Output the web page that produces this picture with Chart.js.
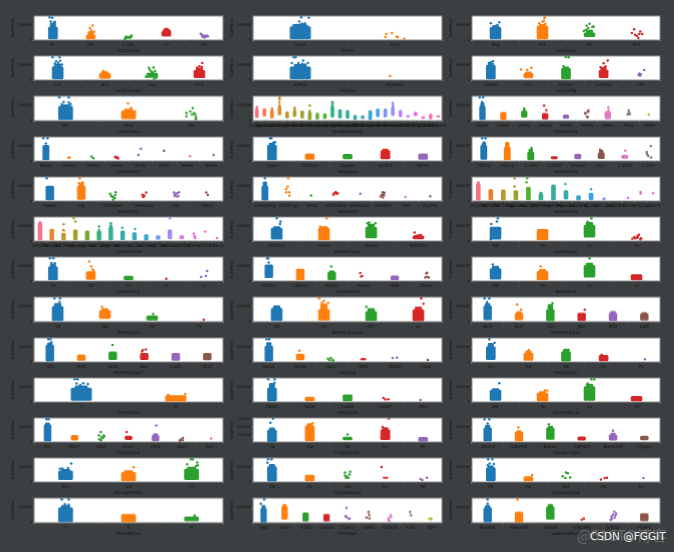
<!DOCTYPE html>
<html>
<head>
<meta charset="utf-8">
<title>SalePrice strip plots</title>
<script src="https://cdn.jsdelivr.net/npm/chart.js@4/dist/chart.umd.min.js"></script>
<style>
  html, body { margin: 0; padding: 0; background: #3c3f41; overflow: hidden; }
  #page { position: relative; width: 674px; height: 552px; }
  #page canvas { position: absolute; filter: blur(0.35px); }
  .wm1 { position: absolute; left: 577px; top: 524px; font: 15px "Noto Sans CJK SC", sans-serif; color: rgba(255,255,255,0.22); }
  .wm2 { position: absolute; left: 590px; top: 530px; font: 10.5px "DejaVu Sans", sans-serif; color: #f2f2f2; }
</style>
</head>
<body>
<div id="page">
  <div class="wm1">@51CTO博客</div>
  <div class="wm2">CSDN @FGGIT</div>
</div>
<script>
// one panel = categories, dense bands [cat, low, high, thin top], loose points [x, price], prices in thousands

const MSZoning = ['RL', 'RM', 'C (all)', 'FV', 'RH'];
const MSZoning_bands = [[0, 35, 430, 560], [1, 40, 170, 280], [3, 130, 290, 370]];
const MSZoning_points = [[-0.09, 755], [-0.02, 745], [-0.06, 615], [0.04, 605], [-0.02, 540], [0.05, 590], [1.05, 484], [0.98, 396], [1.01, 320], [1.05, 250], [1.09, 275], [1.92, 60], [1.95, 85], [1.98, 100], [2.02, 75], [2.05, 120], [2.06, 95], [2.08, 150], [1.93, 105], [1.9, 40], [1.94, 65], [3.0, 375], [2.94, 300], [3.05, 330], [3.09, 290], [2.92, 250], [3.93, 190], [3.96, 150], [3.98, 100], [4.02, 85], [4.05, 130], [4.08, 150], [4.1, 120], [3.91, 210], [3.95, 120], [4.0, 140], [4.03, 110]];

const Street = ['Pave', 'Grvl'];
const Street_bands = [[0, 35, 450, 520]];
const Street_points = [[0.01, 755], [0.09, 745], [-0.01, 615], [0.05, 560], [0.02, 540], [0.07, 470], [-0.04, 500], [-0.07, 490], [0.0, 520], [0.91, 198], [0.9, 100], [0.97, 230], [1.02, 120], [1.03, 95], [1.1, 40]];

const LotShape = ['Reg', 'IR1', 'IR2', 'IR3'];
const LotShape_bands = [[0, 35, 420, 480], [1, 40, 460, 520], [2, 110, 240, 330]];
const LotShape_points = [[-0.1, 560], [0.08, 595], [0.04, 500], [0.0, 470], [1.05, 755], [1.04, 745], [0.93, 560], [1.03, 640], [1.0, 610], [1.06, 540], [1.88, 300], [2.0, 540], [1.94, 475], [2.06, 430], [2.09, 450], [1.92, 340], [1.97, 390], [2.03, 300], [2.95, 360], [3.08, 285], [2.9, 230], [3.06, 200], [3.12, 200], [3.01, 145], [3.04, 65], [2.97, 175]];

const LandContour = ['Lvl', 'Bnk', 'Low', 'HLS'];
const LandContour_bands = [[0, 35, 450, 530], [1, 50, 220, 280], [2, 90, 230], [3, 80, 320, 400]];
const LandContour_points = [[-0.11, 755], [0.04, 755], [-0.03, 625], [0.05, 640], [0.01, 570], [-0.06, 550], [0.09, 520], [0.97, 310], [1.93, 407], [2.03, 420], [1.95, 340], [2.06, 300], [1.98, 280], [2.01, 250], [2.09, 75], [1.87, 110], [2.06, 130], [2.04, 35], [2.97, 300], [3.06, 570], [3.0, 460], [2.95, 405], [3.05, 430]];

const Utilities = ['AllPub', 'NoSeWa'];
const Utilities_bands = [[0, 35, 440, 520]];
const Utilities_points = [[-0.07, 755], [-0.05, 755], [0.03, 650], [-0.02, 570], [0.08, 570], [0.02, 545], [-0.09, 570], [0.05, 520], [0.95, 137]];

const LotConfig = ['Inside', 'FR2', 'Corner', 'CulDSac', 'FR3'];
const LotConfig_bands = [[0, 35, 500, 560], [1, 70, 230, 270], [2, 40, 390, 440], [3, 80, 330, 420]];
const LotConfig_points = [[-0.05, 570], [0.06, 625], [0.0, 595], [0.8, 350], [1.08, 410], [0.97, 330], [1.99, 770], [2.07, 755], [1.93, 460], [3.11, 650], [3.0, 555], [2.92, 425], [3.05, 460], [4.08, 330], [3.95, 220], [3.97, 140], [3.99, 190], [3.93, 165]];

const LandSlope = ['Gtl', 'Mod', 'Sev'];
const LandSlope_bands = [[0, 35, 470, 520], [1, 60, 320, 380]];
const LandSlope_points = [[-0.1, 755], [0.05, 755], [-0.03, 610], [0.05, 590], [0.08, 540], [-0.06, 530], [0.99, 560], [1.04, 420], [1.1, 300], [2.02, 407], [1.92, 253], [1.92, 143], [1.98, 300], [2.04, 250], [2.06, 200], [2.01, 200], [2.07, 120], [2.07, 55]];

const Neighborhood = ['CollgCr', 'Veenker', 'Crawfor', 'NoRidge', 'Mitchel', 'Somerst', 'NWAmes', 'OldTown', 'BrkSide', 'Sawyer', 'NridgHt', 'NAmes', 'SawyerW', 'IDOTRR', 'MeadowV', 'Edwards', 'Timber', 'Gilbert', 'StoneBr', 'ClearCr', 'NPkVill', 'Blmngtn', 'BrDale', 'SWISU', 'Blueste'];
const Neighborhood_bands = [[0, 100, 380, 470], [1, 150, 390], [2, 90, 330, 420], [3, 190, 470, 520], [4, 90, 290], [5, 140, 330, 450], [6, 90, 320], [7, 40, 280, 350], [8, 50, 250], [9, 70, 230], [10, 110, 480, 620], [11, 90, 360], [12, 80, 340], [13, 35, 180], [14, 70, 160], [15, 35, 330], [16, 130, 390], [17, 120, 390], [18, 170, 450, 560], [19, 130, 340], [20, 120, 170], [21, 160, 280], [22, 80, 130], [23, 60, 210], [24, 120, 160]];
const Neighborhood_points = [[3, 755], [2.97, 745], [3, 690], [2.96, 590], [7.0, 495], [10.0, 610], [17.98, 580]];

const Condition1 = ['Norm', 'Feedr', 'PosN', 'Artery', 'RRAe', 'RRNn', 'RRAn', 'PosA', 'RRNe'];
const Condition1_bands = [[0, 35, 480, 590], [1, 40, 270], [2, 110, 320], [3, 50, 240], [4, 80, 190], [6, 60, 300]];
const Condition1_points = [[-0.13, 755], [0.03, 755], [-0.02, 610], [2.0, 400], [2.0, 350], [2.95, 490], [3.06, 340], [4.92, 230], [5.07, 330], [5.05, 290], [4.93, 250], [5.0, 130], [5.04, 120], [6.03, 430], [6.03, 340], [7.0, 330], [7.03, 270], [6.97, 220], [7.06, 215], [6.95, 205], [7.96, 200]];

const Condition2 = ['Norm', 'Artery', 'RRNn', 'Feedr', 'PosN', 'PosA', 'RRAn', 'RRAe'];
const Condition2_bands = [[0, 35, 520]];
const Condition2_points = [[-0.11, 755], [0.07, 755], [0.0, 580], [0.95, 110], [1.0, 120], [1.93, 150], [2.01, 88], [2.93, 140], [3.0, 130], [3.03, 100], [2.97, 110], [3.06, 85], [4.02, 407], [3.92, 198], [5.0, 340], [6.1, 155], [7.1, 198]];

const BldgType = ['1Fam', '2fmCon', 'Duplex', 'TwnhsE', 'Twnhs'];
const BldgType_bands = [[0, 35, 530, 600], [1, 50, 240], [2, 70, 220], [3, 70, 350, 400], [4, 50, 240]];
const BldgType_points = [[-0.05, 755], [-0.02, 755], [0.04, 615], [0.08, 625]];

const HouseStyle = ['2Story', '1Story', '1.5Fin', '1.5Unf', 'SFoyer', 'SLvl', '2.5Unf', '2.5Fin'];
const HouseStyle_bands = [[0, 50, 520, 590], [1, 40, 460, 620], [2, 40, 300, 400], [3, 70, 150], [4, 70, 230], [5, 80, 280, 360], [6, 90, 200]];
const HouseStyle_points = [[-0.07, 755], [0.07, 755], [0.0, 620], [0.05, 600], [2.03, 430], [4.95, 375], [6.02, 340], [7.11, 500], [6.94, 300], [6.97, 200], [7.0, 170], [7.12, 115], [6.94, 250]];

const RoofStyle = ['Gable', 'Hip', 'Gambrel', 'Mansard', 'Flat', 'Shed'];
const RoofStyle_bands = [[0, 35, 500], [1, 50, 500, 600]];
const RoofStyle_points = [[-0.1, 755], [0.95, 755], [1.04, 625], [0.93, 595], [1.92, 240], [2.03, 120], [2.09, 290], [1.98, 150], [2.01, 45], [2.08, 200], [2.06, 100], [1.95, 170], [2.94, 210], [3.06, 285], [2.98, 150], [3.0, 180], [2.96, 130], [3.94, 285], [4.1, 290], [4.0, 240], [3.97, 200], [4.05, 260], [4.08, 170], [3.96, 170], [4.04, 150], [4.97, 285], [5.02, 200]];

const RoofMatl = ['CompShg', 'WdShngl', 'Metal', 'WdShake', 'Membran', 'Tar&Grv', 'Roll', 'ClyTile'];
const RoofMatl_bands = [[0, 25, 500, 640]];
const RoofMatl_points = [[0.0, 755], [0.99, 755], [0.96, 480], [0.9, 400], [1.03, 290], [0.9, 290], [1.04, 175], [1.96, 180], [2.9, 210], [3.0, 300], [3.08, 260], [2.94, 260], [3.04, 240], [4.04, 240], [4.99, 290], [5.06, 275], [4.95, 200], [5.04, 190], [4.9, 150], [5.0, 120], [5.02, 230], [5.95, 137], [7.0, 160]];

const Exterior1st = ['VinylSd', 'MetalSd', 'Wd Sdng', 'HdBoard', 'BrkFace', 'WdShing', 'CemntBd', 'Plywood', 'AsbShng', 'Stucco', 'BrkComm', 'AsphShn', 'Stone', 'ImStucc', 'CBlock'];
const Exterior1st_bands = [[0, 25, 560, 650], [1, 40, 390], [2, 25, 370], [3, 40, 350], [4, 40, 460], [5, 40, 240, 300], [6, 40, 540], [7, 60, 350], [8, 25, 180], [9, 40, 260]];
const Exterior1st_points = [[2.9, 755], [3.9, 755], [2.9, 480], [3.85, 625], [5.95, 395], [6.95, 570], [9.0, 395], [10.0, 60], [10.07, 85], [11.95, 100], [12.95, 300], [12.95, 240], [13.95, 262], [15.0, 100]];

const Exterior2nd = ['VinylSd', 'MetalSd', 'Wd Shng', 'HdBoard', 'Plywood', 'Wd Sdng', 'CmentBd', 'BrkFace', 'Stucco', 'AsbShng', 'Brk Cmn', 'ImStucc', 'AsphShn', 'Stone', 'Other', 'CBlock'];
const Exterior2nd_bands = [[0, 30, 600, 650], [1, 30, 400], [2, 30, 260], [3, 40, 370], [4, 40, 340], [5, 30, 340], [6, 40, 460, 550], [7, 40, 340], [8, 40, 280], [9, 25, 210], [10, 50, 180], [11, 70, 370], [12, 70, 180]];
const Exterior2nd_points = [[2.0, 560], [1.95, 370], [2.03, 350], [2.85, 755], [3.0, 650], [5.0, 480], [5.0, 375], [6.0, 590], [6.97, 440], [8.05, 400], [11.0, 755], [13.03, 240], [13.14, 100], [13.1, 160], [14.0, 320], [15.0, 100]];

const MasVnrType = ['BrkFace', 'None', 'Stone', 'BrkCmn'];
const MasVnrType_bands = [[0, 60, 430, 480], [1, 35, 440, 480], [2, 100, 460, 560], [3, 70, 170]];
const MasVnrType_points = [[0.0, 755], [0.08, 650], [0.07, 570], [1.06, 755], [0.92, 485], [1.96, 620], [2.09, 590], [1.92, 590], [2.92, 285], [2.95, 170], [3.0, 190], [3.05, 200], [3.08, 100]];

const ExterQual = ['Gd', 'TA', 'Ex', 'Fa'];
const ExterQual_bands = [[0, 60, 460], [1, 40, 390], [2, 130, 530, 620]];
const ExterQual_points = [[-0.09, 570], [0.05, 755], [0.03, 650], [-0.1, 60], [2.04, 755], [1.96, 640], [2.91, 75], [2.95, 130], [3.0, 100], [3.05, 210], [3.02, 170], [3.08, 50], [2.97, 90], [3.1, 90], [3.03, 120]];

const ExterCond = ['TA', 'Gd', 'Fa', 'Po', 'Ex'];
const ExterCond_bands = [[0, 35, 480, 560], [1, 50, 310], [2, 40, 160]];
const ExterCond_points = [[-0.08, 755], [0.01, 755], [-0.04, 600], [0.05, 590], [0.96, 650], [1.01, 495], [1.05, 380], [1.08, 340], [3.0, 76], [3.92, 130], [4.05, 165], [4.08, 330]];

const Foundation = ['PConc', 'CBlock', 'BrkTil', 'Wood', 'Slab', 'Stone'];
const Foundation_bands = [[0, 110, 540], [1, 35, 400], [2, 35, 300, 340], [4, 40, 170]];
const Foundation_points = [[-0.05, 755], [-0.02, 750], [0.0, 620], [1.98, 480], [2.9, 265], [2.96, 165], [2.93, 150], [5.03, 275], [5.03, 140], [5.08, 120], [4.97, 115], [5.0, 250]];

const BsmtQual = ['Gd', 'TA', 'Ex', 'Fa'];
const BsmtQual_bands = [[0, 60, 410, 500], [1, 40, 320, 390], [2, 130, 520, 600], [3, 40, 210]];
const BsmtQual_points = [[-0.06, 550], [0.96, 480], [2.0, 755]];

const BsmtCond = ['TA', 'Gd', 'Fa', 'Po'];
const BsmtCond_bands = [[0, 35, 500, 600], [1, 100, 360, 430], [2, 50, 190]];
const BsmtCond_points = [[0.05, 755], [-0.07, 755], [0.04, 640], [0.94, 480], [2.02, 250], [3.09, 65]];

const BsmtExposure = ['No', 'Gd', 'Mn', 'Av'];
const BsmtExposure_bands = [[0, 35, 440, 520], [1, 50, 400, 580], [2, 40, 340, 430], [3, 30, 390, 480]];
const BsmtExposure_points = [[0.9, 755], [0.96, 620], [1.09, 620], [1.0, 680], [1.9, 480], [3.06, 755], [3.11, 580]];

const BsmtFinType1 = ['GLQ', 'ALQ', 'Unf', 'Rec', 'BLQ', 'LwQ'];
const BsmtFinType1_bands = [[0, 60, 520, 600], [1, 60, 280, 330], [2, 30, 400, 560], [3, 40, 280], [4, 40, 280, 340], [5, 50, 260, 300]];
const BsmtFinType1_points = [[-0.1, 755], [0.05, 755], [-0.02, 640], [0.94, 560], [1.07, 390], [2.07, 600], [3.1, 395]];

const BsmtFinType2 = ['Unf', 'BLQ', 'ALQ', 'Rec', 'LwQ', 'GLQ'];
const BsmtFinType2_bands = [[0, 25, 560, 640], [1, 50, 240], [2, 80, 340], [3, 80, 290], [4, 50, 290], [5, 70, 290]];
const BsmtFinType2_points = [[-0.05, 755], [0.02, 755], [0.05, 660], [1.99, 570], [2.95, 400], [3.05, 420], [2.93, 350]];

const Heating = ['GasA', 'GasW', 'Grav', 'Wall', 'OthW', 'Floor'];
const Heating_bands = [[0, 25, 530, 650], [1, 70, 260]];
const Heating_points = [[-0.07, 755], [0.01, 755], [0.97, 375], [1.88, 110], [1.93, 60], [1.97, 130], [2.03, 70], [2.05, 40], [2.95, 95], [3.0, 100], [3.05, 90], [3.93, 130], [4.07, 140], [5.05, 70]];

const HeatingQC = ['Ex', 'Gd', 'TA', 'Fa', 'Po'];
const HeatingQC_bands = [[0, 80, 510, 620], [1, 50, 300, 370], [2, 25, 350, 430], [3, 40, 220]];
const HeatingQC_points = [[-0.04, 755], [0.1, 640], [1.01, 400], [2.07, 400], [2.95, 240], [4.1, 90]];

const CentralAir = ['Y', 'N'];
const CentralAir_bands = [[0, 55, 460, 540], [1, 25, 210]];
const CentralAir_points = [[-0.07, 755], [-0.04, 755], [-0.05, 620], [0.07, 600], [0.02, 625], [-0.01, 570], [1.1, 265], [0.92, 240]];

const Electrical = ['SBrkr', 'FuseF', 'FuseA', 'FuseP', 'Mix'];
const Electrical_bands = [[0, 25, 460, 620], [1, 40, 165], [2, 40, 240]];
const Electrical_points = [[-0.1, 755], [0.07, 755], [0.07, 640], [2.95, 132], [3.0, 80], [3.08, 88], [3.93, 67]];

const KitchenQual = ['Gd', 'TA', 'Ex', 'Fa'];
const KitchenQual_bands = [[0, 50, 400, 450], [1, 25, 300, 350], [2, 50, 510, 600], [3, 40, 190]];
const KitchenQual_points = [[0.08, 625], [1.05, 385], [1.1, 385], [2.04, 755], [2.1, 755], [1.96, 620]];

const Functional = ['Typ', 'Min1', 'Maj1', 'Min2', 'Mod', 'Maj2', 'Sev'];
const Functional_bands = [[0, 25, 580, 640], [1, 60, 220], [3, 80, 200], [4, 40, 220, 280]];
const Functional_points = [[-0.04, 755], [0.04, 755], [1.97, 330], [1.9, 220], [2.08, 220], [1.92, 90], [2.0, 160], [2.05, 130], [1.98, 60], [2.1, 190], [2.93, 330], [4.03, 550], [4.9, 40], [4.93, 85], [5.01, 130], [5.0, 60], [6.06, 120]];

const FireplaceQu = ['TA', 'Gd', 'Fa', 'Ex', 'Po'];
const FireplaceQu_bands = [[0, 50, 400, 470], [1, 70, 530, 600], [2, 100, 190], [3, 110, 420, 480], [4, 60, 180]];
const FireplaceQu_points = [[0.03, 745], [-0.04, 625], [1.07, 610], [2.0, 270], [2.9, 180], [3.09, 755], [2.93, 500]];

const GarageType = ['Attchd', 'Detchd', 'BuiltIn', 'CarPort', 'Basment', '2Types'];
const GarageType_bands = [[0, 30, 470, 560], [1, 25, 330, 380], [2, 90, 470, 530], [3, 60, 170], [4, 60, 240, 300], [5, 70, 200]];
const GarageType_points = [[-0.1, 755], [0.05, 755], [0.0, 620], [0.98, 484], [1.95, 595], [4.0, 375]];

const GarageFinish = ['RFn', 'Unf', 'Fin'];
const GarageFinish_bands = [[0, 80, 370, 420], [1, 40, 320, 380], [2, 80, 430, 500]];
const GarageFinish_points = [[0.09, 615], [0.04, 470], [-0.09, 440], [-0.05, 450], [1.08, 495], [1.99, 755], [2.02, 755], [2.09, 650], [1.93, 590], [2.1, 560], [2.07, 530]];

const GarageQual = ['TA', 'Fa', 'Gd', 'Ex', 'Po'];
const GarageQual_bands = [[0, 25, 510, 590], [1, 40, 230]];
const GarageQual_points = [[-0.1, 755], [-0.01, 755], [-0.12, 640], [1.93, 320], [2.05, 250], [1.98, 180], [2.02, 140], [1.93, 220], [1.96, 130], [2.07, 340], [2.9, 500], [2.97, 140], [3.04, 140], [3.93, 100], [3.98, 70], [4.1, 140]];

const GarageCond = ['TA', 'Fa', 'Gd', 'Po', 'Ex'];
const GarageCond_bands = [[0, 40, 480, 540], [1, 40, 180]];
const GarageCond_points = [[-0.07, 755], [0.04, 755], [-0.03, 620], [0.08, 600], [-0.08, 560], [1.1, 230], [2.0, 320], [2.05, 290], [1.91, 190], [1.98, 130], [2.11, 150], [2.93, 80], [3.03, 130], [3.09, 140], [4.06, 130]];

const PavedDrive = ['Y', 'N', 'P'];
const PavedDrive_bands = [[0, 30, 490, 560], [1, 30, 270], [2, 60, 190]];
const PavedDrive_points = [[-0.06, 755], [0.05, 755], [-0.01, 600], [0.05, 580], [2.05, 230]];

const SaleType = ['WD', 'New', 'COD', 'ConLD', 'ConLI', 'CWD', 'ConLw', 'Con', 'Oth'];
const SaleType_bands = [[0, 20, 470, 560], [1, 110, 530, 600], [2, 50, 320], [3, 50, 270]];
const SaleType_points = [[0.03, 755], [-0.13, 620], [3.95, 480], [3.9, 220], [3.95, 180], [4.05, 130], [4.1, 135], [5.0, 350], [5.03, 250], [4.9, 165], [5.04, 145], [5.95, 100], [6.05, 240], [6.08, 180], [5.96, 150], [6.0, 50], [6.98, 350], [7.03, 240], [7.9, 130], [7.95, 110], [8.0, 130]];

const SaleCondition = ['Normal', 'Abnorml', 'Partial', 'AdjLand', 'Alloca', 'Family'];
const SaleCondition_bands = [[0, 30, 490, 560], [1, 20, 350], [2, 110, 520, 600], [5, 60, 300]];
const SaleCondition_points = [[0.0, 755], [0.0, 620], [0.95, 755], [3.0, 100], [3.07, 130], [3.96, 130], [4.04, 360], [4.1, 300], [4.0, 260], [3.95, 200], [4.05, 170], [3.93, 90], [4.08, 240]];

// seaborn default colours, husl is for the panels with many categories
const tab10 = ['#1f77b4', '#ff7f0e', '#2ca02c', '#d62728', '#9467bd', '#8c564b', '#e377c2', '#7f7f7f', '#bcbd22', '#17becf'];
const husl25 = ['#f77189', '#f7754f', '#e98731', '#d58c32', '#c39532', '#b39a32', '#a39e31', '#8ea531', '#6fad31', '#4fb031', '#33b07a', '#34ae91', '#35aca1', '#36abad', '#37a9bd', '#38a7d0', '#4aa0e8', '#7b96f4', '#9b8ef4', '#bb83f4', '#cf79f4', '#f561dd', '#f668c2', '#f66db0', '#f770a0'];
const husl15 = ['#f77189', '#e68332', '#bb9832', '#97a431', '#50b131', '#34af8d', '#35ac9e', '#36ada4', '#38a8c5', '#3ba3ec', '#9b8ef4', '#cc7af4', '#f45cf2', '#f565cc', '#f66bad'];
const husl16 = ['#f77189', '#e8822f', '#c39532', '#a39e31', '#77a831', '#33b07a', '#34ae91', '#35aca4', '#37a9bd', '#38a7d0', '#6e9bf4', '#9b8ef4', '#cc7af4', '#f45cf2', '#f565cc', '#f66bad'];

const yTicks = [0, 500000];
const yMax = 800000;
const fireplaceTicks = [250000, 500000, 750000];

// 13 rows by 3 columns, reading left to right
const panels = [
  ['MSZoning', MSZoning, MSZoning_bands, MSZoning_points],
  ['Street', Street, Street_bands, Street_points],
  ['LotShape', LotShape, LotShape_bands, LotShape_points],
  ['LandContour', LandContour, LandContour_bands, LandContour_points],
  ['Utilities', Utilities, Utilities_bands, Utilities_points],
  ['LotConfig', LotConfig, LotConfig_bands, LotConfig_points],
  ['LandSlope', LandSlope, LandSlope_bands, LandSlope_points],
  ['Neighborhood', Neighborhood, Neighborhood_bands, Neighborhood_points],
  ['Condition1', Condition1, Condition1_bands, Condition1_points],
  ['Condition2', Condition2, Condition2_bands, Condition2_points],
  ['BldgType', BldgType, BldgType_bands, BldgType_points],
  ['HouseStyle', HouseStyle, HouseStyle_bands, HouseStyle_points],
  ['RoofStyle', RoofStyle, RoofStyle_bands, RoofStyle_points],
  ['RoofMatl', RoofMatl, RoofMatl_bands, RoofMatl_points],
  ['Exterior1st', Exterior1st, Exterior1st_bands, Exterior1st_points],
  ['Exterior2nd', Exterior2nd, Exterior2nd_bands, Exterior2nd_points],
  ['MasVnrType', MasVnrType, MasVnrType_bands, MasVnrType_points],
  ['ExterQual', ExterQual, ExterQual_bands, ExterQual_points],
  ['ExterCond', ExterCond, ExterCond_bands, ExterCond_points],
  ['Foundation', Foundation, Foundation_bands, Foundation_points],
  ['BsmtQual', BsmtQual, BsmtQual_bands, BsmtQual_points],
  ['BsmtCond', BsmtCond, BsmtCond_bands, BsmtCond_points],
  ['BsmtExposure', BsmtExposure, BsmtExposure_bands, BsmtExposure_points],
  ['BsmtFinType1', BsmtFinType1, BsmtFinType1_bands, BsmtFinType1_points],
  ['BsmtFinType2', BsmtFinType2, BsmtFinType2_bands, BsmtFinType2_points],
  ['Heating', Heating, Heating_bands, Heating_points],
  ['HeatingQC', HeatingQC, HeatingQC_bands, HeatingQC_points],
  ['CentralAir', CentralAir, CentralAir_bands, CentralAir_points],
  ['Electrical', Electrical, Electrical_bands, Electrical_points],
  ['KitchenQual', KitchenQual, KitchenQual_bands, KitchenQual_points],
  ['Functional', Functional, Functional_bands, Functional_points],
  ['FireplaceQu', FireplaceQu, FireplaceQu_bands, FireplaceQu_points],
  ['GarageType', GarageType, GarageType_bands, GarageType_points],
  ['GarageFinish', GarageFinish, GarageFinish_bands, GarageFinish_points],
  ['GarageQual', GarageQual, GarageQual_bands, GarageQual_points],
  ['GarageCond', GarageCond, GarageCond_bands, GarageCond_points],
  ['PavedDrive', PavedDrive, PavedDrive_bands, PavedDrive_points],
  ['SaleType', SaleType, SaleType_bands, SaleType_points],
  ['SaleCondition', SaleCondition, SaleCondition_bands, SaleCondition_points],
];

const colLefts = [34, 253.3, 471.7];
const rowTop = 16, rowStep = 40.2;
const plotW = 188.5, plotH = 24.3;
const padLeft = 23, padTop = 5, padRight = 14, axisH = 13;
const fontSize = 4.3;

// white plot area and grey spines
const framePlugin = {
  id: 'frame',
  beforeDatasetsDraw(chart) {
    const a = chart.chartArea, c = chart.ctx;
    c.save();
    c.fillStyle = '#ffffff';
    c.fillRect(a.left, a.top, a.width, a.height);
    c.strokeStyle = '#8c8c8c';
    c.lineWidth = 1;
    c.strokeRect(a.left, a.top, a.width, a.height);
    c.restore();
  }
};

function colorsFor(cats) {
  if (cats.length == 25) return husl25;
  if (cats.length == 16) return husl16;
  if (cats.length == 15) return husl15;
  return tab10;
}

Chart.defaults.font.family = '"DejaVu Sans", sans-serif';
Chart.defaults.font.size = fontSize;
Chart.defaults.color = '#111111';

const page = document.getElementById('page');

panels.forEach(function (p, idx) {
  const name = p[0], cats = p[1], bands = p[2], points = p[3];
  const palette = colorsFor(cats);
  const row = Math.floor(idx / 3), col = idx % 3;
  const isFireplace = name == 'FireplaceQu';
  const ticksY = isFireplace ? fireplaceTicks : yTicks;
  const thick = plotW / cats.length * 0.2 + 1.5;
  const thin = bands.filter(b => b.length > 3);

  const cv = document.createElement('canvas');
  const w = padLeft + plotW + padRight, h = padTop + plotH + axisH;
  cv.width = w;
  cv.height = h;
  cv.style.left = (colLefts[col] - padLeft) + 'px';
  cv.style.top = (rowTop + row * rowStep - padTop) + 'px';
  cv.style.width = w + 'px';
  cv.style.height = h + 'px';
  page.appendChild(cv);

  new Chart(cv, {
    type: 'scatter',
    data: {
      datasets: [
        {
          type: 'bar',
          data: bands.map(b => ({ x: b[0], y: [b[1] * 1000, b[2] * 1000] })),
          backgroundColor: bands.map(b => palette[b[0] % palette.length]),
          barThickness: thick,
          borderRadius: 1.5,
          borderSkipped: false,
          grouped: false
        },
        {
          type: 'bar',
          data: thin.map(b => ({ x: b[0], y: [b[2] * 1000 - 10000, b[3] * 1000] })),
          backgroundColor: thin.map(b => palette[b[0] % palette.length]),
          barThickness: thick * 0.6,
          borderRadius: 1.2,
          borderSkipped: false,
          grouped: false
        },
        {
          data: points.map(q => ({ x: q[0], y: q[1] * 1000 })),
          backgroundColor: points.map(q => palette[Math.round(q[0]) % palette.length]),
          pointRadius: 1.25,
          borderWidth: 0
        }
      ]
    },
    plugins: [framePlugin],
    options: {
      responsive: false,
      animation: false,
      events: [],
      layout: { padding: { top: padTop, right: padRight, left: 0, bottom: 0 } },
      plugins: { legend: { display: false }, tooltip: { enabled: false } },
      scales: {
        x: {
          type: 'linear',
          offset: false,
          min: -0.5,
          max: cats.length - 0.5,
          afterBuildTicks: s => { s.ticks = cats.map((c, i) => ({ value: i })); },
          afterFit: s => { s.height = axisH; },
          grid: { drawOnChartArea: false, tickLength: 1.5, tickColor: '#666666' },
          border: { display: false },
          ticks: { callback: v => cats[v], autoSkip: false, maxRotation: 0, padding: 1 },
          title: { display: true, text: name, padding: 0, font: { size: fontSize } }
        },
        y: {
          min: isFireplace ? 40000 : 0,
          max: isFireplace ? 770000 : yMax,
          afterBuildTicks: s => { s.ticks = ticksY.map(v => ({ value: v })); },
          afterFit: s => { s.width = padLeft; },
          grid: { drawOnChartArea: false, tickLength: 1.5, tickColor: '#666666' },
          border: { display: false },
          ticks: { callback: v => String(v), padding: 0.5, font: { size: 3.6 } },
          title: { display: true, text: 'SalePrice', padding: 0, font: { size: 3.9 } }
        }
      }
    }
  });
});
</script>
</body>
</html>
